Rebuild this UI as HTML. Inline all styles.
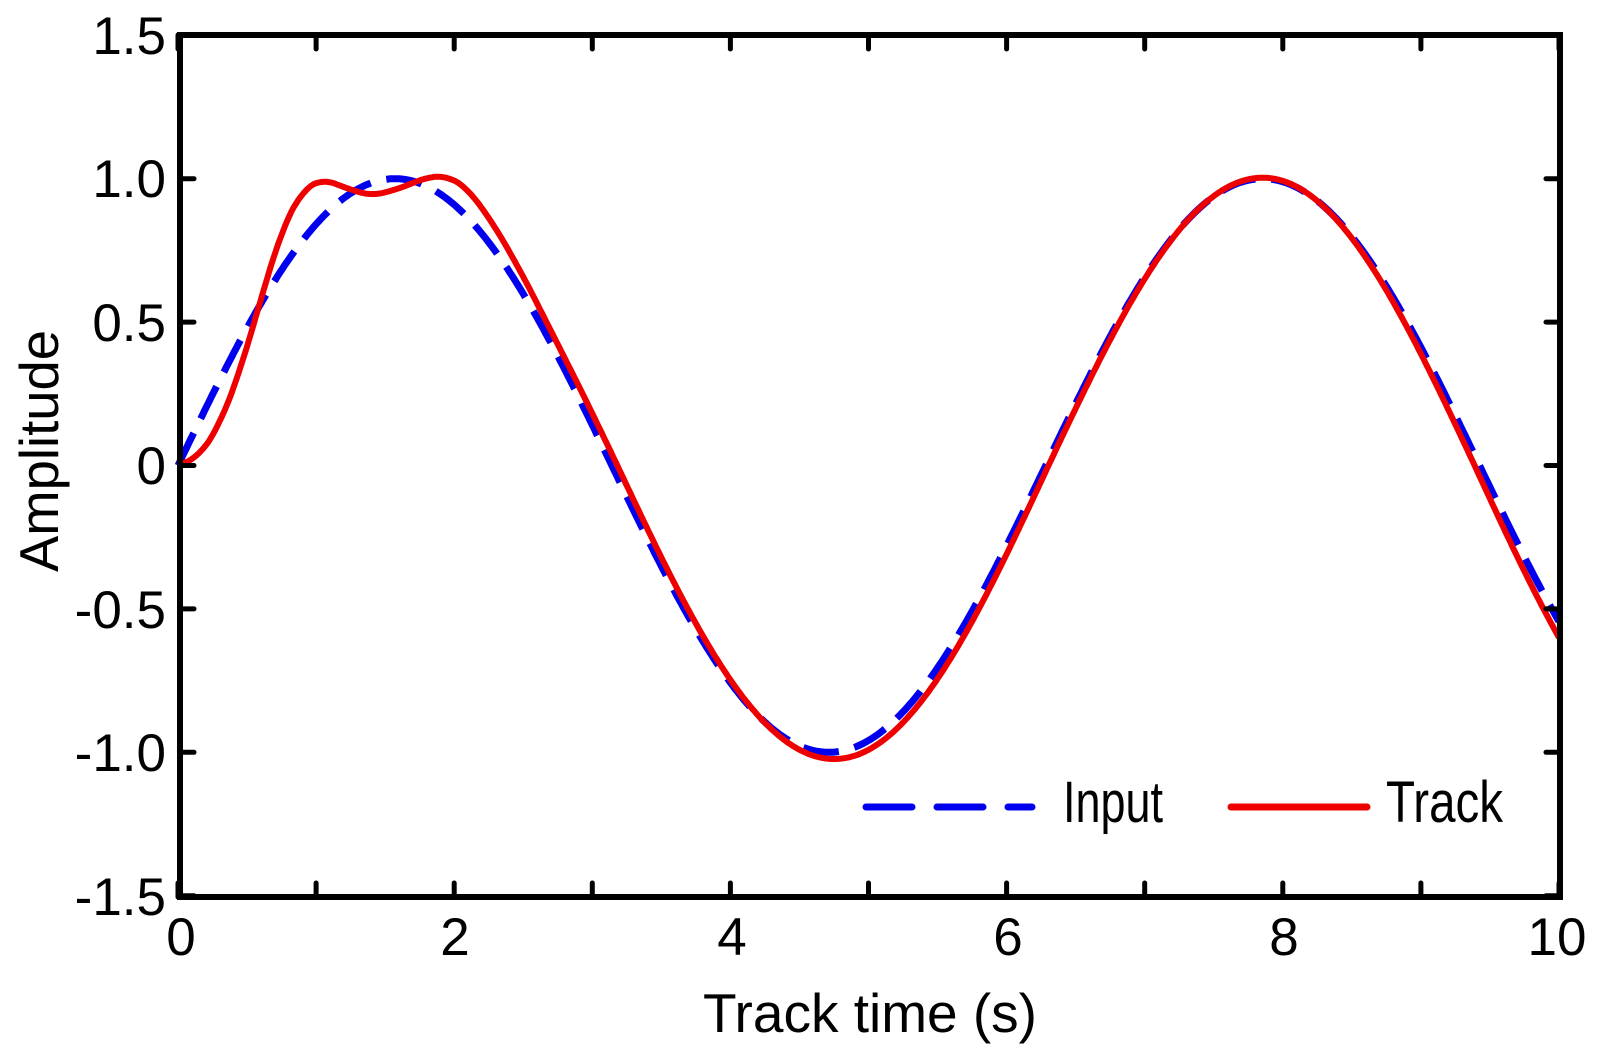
<!DOCTYPE html>
<html><head><meta charset="utf-8"><style>html,body{margin:0;padding:0;background:#fff}svg{display:block}</style></head>
<body>
<svg id="s" width="1613" height="1064" viewBox="0 0 1613 1064" xmlns="http://www.w3.org/2000/svg" font-family="Liberation Sans, Arial, sans-serif">
<g id="curves"></g>
<rect x="180" y="35" width="1380" height="862" fill="none" stroke="#000" stroke-width="6"/>
<g id="ticks" stroke="#000" stroke-width="5" stroke-linecap="round"></g>
<g font-size="53" fill="#000" text-anchor="end">
<text x="166" y="54">1.5</text>
<text x="166" y="197">1.0</text>
<text x="166" y="341">0.5</text>
<text x="166" y="484">0</text>
<text x="166" y="628">-0.5</text>
<text x="166" y="771">-1.0</text>
<text x="166" y="915">-1.5</text>
</g>
<g font-size="53" fill="#000" text-anchor="middle">
<text x="181" y="955">0</text>
<text x="455" y="955">2</text>
<text x="732" y="955">4</text>
<text x="1008" y="955">6</text>
<text x="1284" y="955">8</text>
<text x="1557" y="955">10</text>
</g>
<text x="870" y="1032" font-size="55" text-anchor="middle" textLength="334" lengthAdjust="spacingAndGlyphs">Track time (s)</text>
<text transform="translate(58,451) rotate(-90)" font-size="55" text-anchor="middle" textLength="242" lengthAdjust="spacingAndGlyphs">Amplitude</text>
<line x1="866" y1="807" x2="1032" y2="807" stroke="#0000ee" stroke-width="7" stroke-dasharray="46 25" stroke-linecap="round"/>
<text x="1063" y="822" font-size="58" textLength="100" lengthAdjust="spacingAndGlyphs">Input</text>
<line x1="1231" y1="807" x2="1367" y2="807" stroke="#ee0000" stroke-width="7" stroke-linecap="round"/>
<text x="1386" y="822" font-size="58" textLength="117" lengthAdjust="spacingAndGlyphs">Track</text>
</svg>
<script>
var X=function(t){return 178+138.1*t},Y=function(v){return 465.5-286.8*v};
var tk=document.getElementById('ticks'),h='';
for(var t=0;t<=10;t++){var x=X(t);var L=14;h+='<line x1="'+x+'" y1="897" x2="'+x+'" y2="'+(897-L)+'"/><line x1="'+x+'" y1="35" x2="'+x+'" y2="'+(35+L)+'"/>';}
for(var v=-1.5;v<=1.51;v+=0.5){var y=Y(v);h+='<line x1="180" y1="'+y+'" x2="194" y2="'+y+'"/><line x1="1560" y1="'+y+'" x2="1546" y2="'+y+'"/>';}
tk.innerHTML=h;
var early=[[0,0],[0.15,0.03],[0.3,0.14],[0.45,0.33],[0.6,0.58],[0.75,0.82],[0.9,0.96],[1.05,1.0],[1.2,0.97],[1.4,0.94],[1.6,0.965],[1.8,1.005],[1.95,1.01],[2.1,0.965],[2.3,0.83],[2.5,0.66],[2.7,0.47]];
function shift(t){if(t<4.7)return -0.04;if(t<7.9)return -0.04+0.04*(t-4.7)/3.2;return 0.05*(t-7.9)/2.1;}
function late(t){var s=Math.sin(t+shift(t));return s*(s<0?1.025:1.005);}
function tr(t){if(t<=2.7){for(var i=1;i<early.length;i++){if(t<=early[i][0]){var a=early[i-1],b=early[i];var u=(t-a[0])/(b[0]-a[0]);return a[1]+(b[1]-a[1])*u;}}}
if(t<3.0){var w=(t-2.7)/0.3;return (1-w)*(0.47+(t-2.7)*(-0.95))+w*late(t);}return late(t);}
var pi='',pt='';
for(var i=0;i<=1000;i++){var t=i/100;pi+=(i?'L':'M')+X(t).toFixed(1)+' '+Y(Math.sin(t)).toFixed(1);}
var raw=[];for(var i=0;i<=1000;i++)raw.push(tr(i/100));
for(var i=0;i<=1000;i++){var W=Math.min(9,i,1000-i);var s=0,n=0;for(var k=-W;k<=W;k++){s+=raw[i+k];n++;}var v=s/n;pt+=(i?'L':'M')+X(i/100).toFixed(1)+' '+Y(v).toFixed(1);}
document.getElementById('curves').innerHTML='<path d="'+pi+'" fill="none" stroke="#0000ee" stroke-width="7" stroke-dasharray="36 16"/><path d="'+pt+'" fill="none" stroke="#ee0000" stroke-width="6"/>';
</script>
</body></html>
